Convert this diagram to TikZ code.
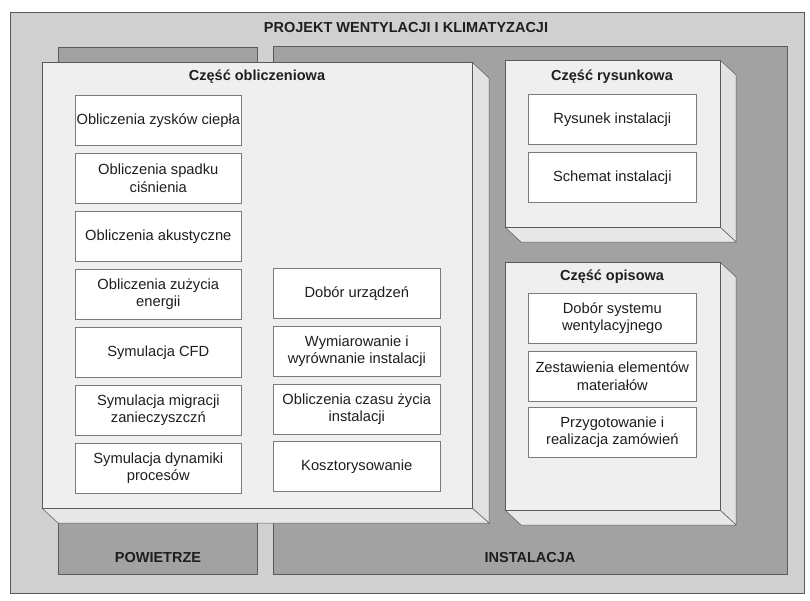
\documentclass[tikz,border=0pt]{standalone}
\usepackage{fontspec}
\setmainfont{Liberation Sans}
\definecolor{outerbg}{HTML}{D0D0D0}
\definecolor{panelbg}{HTML}{A2A2A2}
\definecolor{facefront}{HTML}{EFEFEF}
\definecolor{faceside}{HTML}{E2E2E2}
\definecolor{facebottom}{HTML}{E8E8E8}
\definecolor{edge}{HTML}{5A5A5A}
\definecolor{ink}{HTML}{1E1E1E}
\begin{document}
\begin{tikzpicture}[x=1pt,y=-1pt,
  every node/.style={font=\fontsize{14.7}{17.5}\selectfont, text=ink},
  heading/.style={font=\bfseries\fontsize{14.5}{17}\selectfont},
  item/.style={draw=edge!80, line width=0.6pt, fill=white, anchor=north west,
    align=center, inner sep=0.5pt, minimum height=50pt},
  leftitem/.style={item, minimum width=166pt},
  miditem/.style={item, minimum width=167pt},
  rightitem/.style={item, minimum width=168pt},
  panel/.style={fill=panelbg, draw=edge, line width=0.5pt},
  front/.style={fill=facefront, draw=edge, line width=0.5pt},
  side/.style={fill=faceside, draw=edge, line width=0.5pt},
  bottom/.style={fill=facebottom, draw=edge, line width=0.5pt},
]
\useasboundingbox (0,0) rectangle (810,600);
\fill[white] (0,0) rectangle (810,600);

% outer frame
\draw[fill=outerbg, draw=edge, line width=0.7pt] (10,12) rectangle (804,593);
\node[heading] (title) at (406,28) {PROJEKT WENTYLACJI I KLIMATYZACJI};

% dark background panels
\draw[panel] (58,47) rectangle (257,574);
\draw[panel] (273,46) rectangle (787,574);
\node[heading] (air) at (158,557) {POWIETRZE};
\node[heading] (inst) at (530,557) {INSTALACJA};

% raised block: calculations
\draw[side]   (472,62) -- (489,78) -- (489,523) -- (472,508) -- cycle;
\draw[bottom] (42,508) -- (472,508) -- (489,523) -- (58,523) -- cycle;
\draw[front]  (42,62) rectangle (472,508);
\node[heading] (calc) at (257,77) {Część obliczeniowa};

% raised block: drawings
\draw[side]   (720,60) -- (736,75) -- (736,242) -- (720,227) -- cycle;
\draw[bottom] (505,227) -- (720,227) -- (736,242) -- (521,242) -- cycle;
\draw[front]  (505,60) rectangle (720,227);
\node[heading] (draw) at (612,77) {Część rysunkowa};

% raised block: description
\draw[side]   (720,262) -- (736,277) -- (736,525) -- (720,510) -- cycle;
\draw[bottom] (505,510) -- (720,510) -- (736,525) -- (521,525) -- cycle;
\draw[front]  (505,262) rectangle (720,510);
\node[heading] (desc) at (612,277) {Część opisowa};

% calculation items, first column
\node[leftitem] (c1) at (75,95)  {Obliczenia zysków ciepła};
\node[leftitem] (c2) at (75,153) {Obliczenia spadku\\ciśnienia};
\node[leftitem] (c3) at (75,211) {Obliczenia akustyczne};
\node[leftitem] (c4) at (75,269) {Obliczenia zużycia\\energii};
\node[leftitem] (c5) at (75,327) {Symulacja CFD};
\node[leftitem] (c6) at (75,385) {Symulacja migracji\\zanieczyszczń};
\node[leftitem] (c7) at (75,443) {Symulacja dynamiki\\procesów};

% calculation items, second column
\node[miditem] (m1) at (273,268) {Dobór urządzeń};
\node[miditem] (m2) at (273,326) {Wymiarowanie i\\wyrównanie instalacji};
\node[miditem] (m3) at (273,384) {Obliczenia czasu życia\\instalacji};
\node[miditem] (m4) at (273,441) {Kosztorysowanie};

% drawing items
\node[rightitem] (r1) at (528,94)  {Rysunek instalacji};
\node[rightitem] (r2) at (528,152) {Schemat instalacji};

% description items
\node[rightitem] (d1) at (528,293) {Dobór systemu\\wentylacyjnego};
\node[rightitem] (d2) at (528,351) {Zestawienia elementów\\materiałów};
\node[rightitem] (d3) at (528,407) {Przygotowanie i\\realizacja zamówień};
\end{tikzpicture}
\end{document}
